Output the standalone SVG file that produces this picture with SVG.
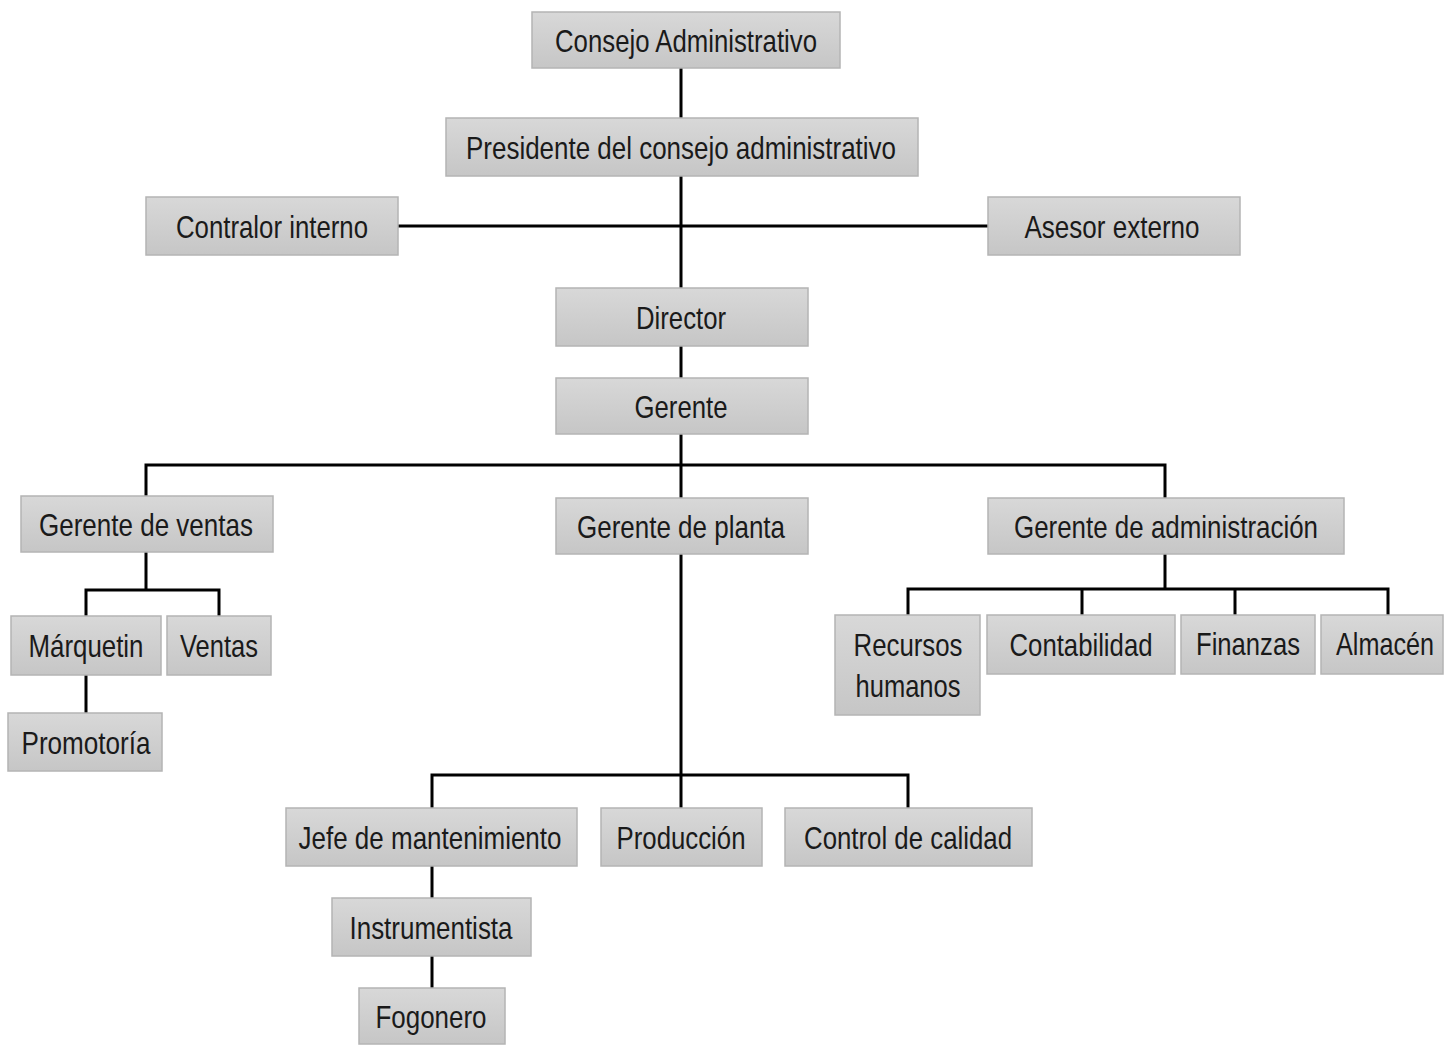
<svg xmlns="http://www.w3.org/2000/svg" width="1444" height="1045" viewBox="0 0 1444 1045">
<style>
.b{fill:url(#g);stroke:#b4b4b4;stroke-width:1.5}
.t{font-family:"Liberation Sans",Arial,sans-serif;font-size:32px;fill:#1a1a1a;text-anchor:middle}
.c{stroke:#000;stroke-width:3;fill:none}
</style>
<defs>
<linearGradient id="g" x1="0" y1="0" x2="0" y2="1">
<stop offset="0" stop-color="#d8d8d8"/>
<stop offset="1" stop-color="#c6c6c6"/>
</linearGradient>
</defs>
<rect width="1444" height="1045" fill="#fff"/>
<g id="connectors" class="c">
<path d="M681 68V118M681 176V288M398 226H988M681 346V378M681 434V498"/>
<path d="M146 496V465H1165V498"/>
<path d="M146 552V590M86 616V590H219V616M86 675V713"/>
<path d="M681 554V808M432 808V775H908V808M432 866V898M432 956V988"/>
<path d="M1165 554V589M908 615V589H1388V615M1082 589V615M1235 589V615"/>
</g>
<g id="n1"><rect class="b" x="532" y="12" width="308" height="56"/><text class="t" x="686" y="52" textLength="262" lengthAdjust="spacingAndGlyphs">Consejo Administrativo</text></g>
<g id="n2"><rect class="b" x="446" y="118" width="472" height="58"/><text class="t" x="681" y="159" textLength="430" lengthAdjust="spacingAndGlyphs">Presidente del consejo administrativo</text></g>
<g id="n3"><rect class="b" x="146" y="197" width="252" height="58"/><text class="t" x="272" y="238" textLength="192" lengthAdjust="spacingAndGlyphs">Contralor interno</text></g>
<g id="n4"><rect class="b" x="988" y="197" width="252" height="58"/><text class="t" x="1112" y="238" textLength="175" lengthAdjust="spacingAndGlyphs">Asesor externo</text></g>
<g id="n5"><rect class="b" x="556" y="288" width="252" height="58"/><text class="t" x="681" y="329" textLength="90" lengthAdjust="spacingAndGlyphs">Director</text></g>
<g id="n6"><rect class="b" x="556" y="378" width="252" height="56"/><text class="t" x="681" y="418" textLength="93" lengthAdjust="spacingAndGlyphs">Gerente</text></g>
<g id="n7"><rect class="b" x="21" y="496" width="252" height="56"/><text class="t" x="146" y="536" textLength="214" lengthAdjust="spacingAndGlyphs">Gerente de ventas</text></g>
<g id="n8"><rect class="b" x="556" y="498" width="252" height="56"/><text class="t" x="681" y="538" textLength="208" lengthAdjust="spacingAndGlyphs">Gerente de planta</text></g>
<g id="n9"><rect class="b" x="988" y="498" width="356" height="56"/><text class="t" x="1166" y="538" textLength="304" lengthAdjust="spacingAndGlyphs">Gerente de administración</text></g>
<g id="n10"><rect class="b" x="11" y="616" width="150" height="59"/><text class="t" x="86" y="657" textLength="115" lengthAdjust="spacingAndGlyphs">Márquetin</text></g>
<g id="n11"><rect class="b" x="167" y="616" width="104" height="59"/><text class="t" x="219" y="657" textLength="78" lengthAdjust="spacingAndGlyphs">Ventas</text></g>
<g id="n12"><rect class="b" x="8" y="713" width="154" height="58"/><text class="t" x="86" y="754" textLength="129" lengthAdjust="spacingAndGlyphs">Promotoría</text></g>
<g id="n13"><rect class="b" x="835" y="615" width="145" height="100"/><text class="t" x="908" y="656" textLength="109" lengthAdjust="spacingAndGlyphs">Recursos</text><text class="t" x="908" y="697" textLength="105" lengthAdjust="spacingAndGlyphs">humanos</text></g>
<g id="n14"><rect class="b" x="987" y="615" width="188" height="59"/><text class="t" x="1081" y="656" textLength="143" lengthAdjust="spacingAndGlyphs">Contabilidad</text></g>
<g id="n15"><rect class="b" x="1181" y="615" width="134" height="59"/><text class="t" x="1248" y="655" textLength="104" lengthAdjust="spacingAndGlyphs">Finanzas</text></g>
<g id="n16"><rect class="b" x="1321" y="615" width="122" height="59"/><text class="t" x="1385" y="655" textLength="98" lengthAdjust="spacingAndGlyphs">Almacén</text></g>
<g id="n17"><rect class="b" x="286" y="808" width="291" height="58"/><text class="t" x="430" y="849" textLength="263" lengthAdjust="spacingAndGlyphs">Jefe de mantenimiento</text></g>
<g id="n18"><rect class="b" x="601" y="808" width="161" height="58"/><text class="t" x="681" y="849" textLength="129" lengthAdjust="spacingAndGlyphs">Producción</text></g>
<g id="n19"><rect class="b" x="785" y="808" width="247" height="58"/><text class="t" x="908" y="849" textLength="208" lengthAdjust="spacingAndGlyphs">Control de calidad</text></g>
<g id="n20"><rect class="b" x="332" y="898" width="199" height="58"/><text class="t" x="431" y="939" textLength="163" lengthAdjust="spacingAndGlyphs">Instrumentista</text></g>
<g id="n21"><rect class="b" x="359" y="988" width="146" height="56"/><text class="t" x="431" y="1028" textLength="111" lengthAdjust="spacingAndGlyphs">Fogonero</text></g>
</svg>
